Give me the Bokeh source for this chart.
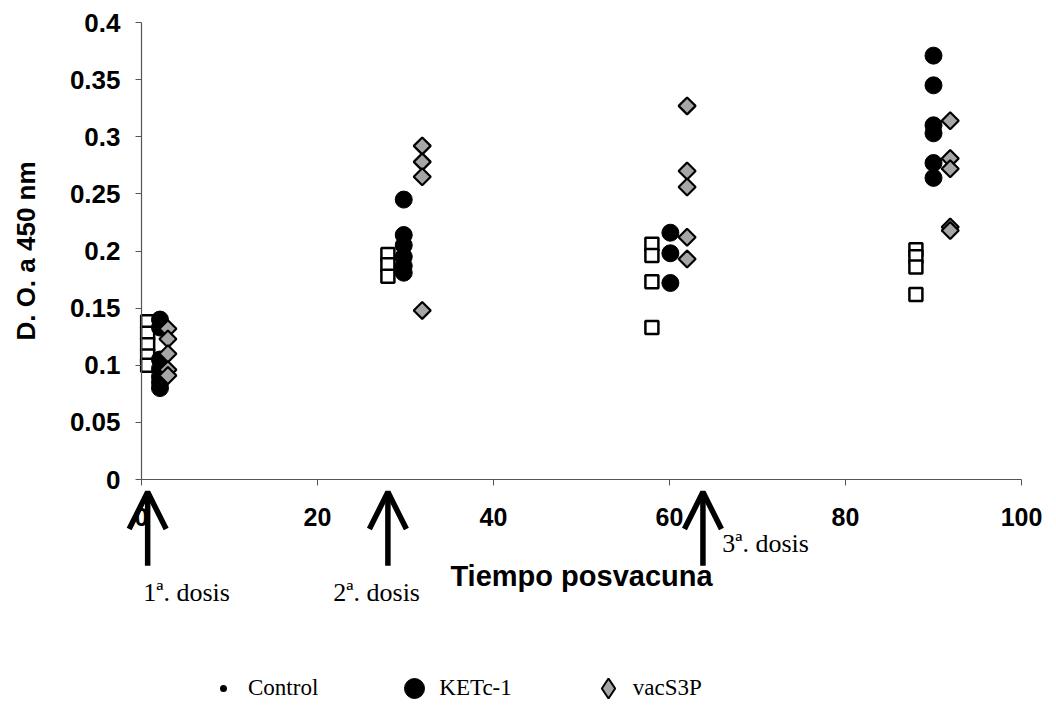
from bokeh.plotting import figure
from bokeh.models import (FixedTicker, Arrow, OpenHead, Label, Legend, LegendItem,
                          ColumnDataSource)
from bokeh.embed import file_html
from bokeh.resources import INLINE
import math

# ---------------- data ----------------
x_ticks = [0, 20, 40, 60, 80, 100]
x_tick_labels = ["0", "20", "40", "60", "80", "100"]
y_ticks = [0, 0.05, 0.1, 0.15, 0.2, 0.25, 0.3, 0.35, 0.4]
y_tick_labels = ["0", "0.05", "0.1", "0.15", "0.2", "0.25", "0.3", "0.35", "0.4"]

control_days = [0.7, 28, 58, 88]
control_values = [
    [0.138, 0.128, 0.118, 0.108, 0.100],
    [0.197, 0.188, 0.178],
    [0.206, 0.196, 0.173, 0.133],
    [0.201, 0.195, 0.186, 0.162],
]
ket_days = [2.1, 29.8, 60.1, 90]
ket_values = [
    [0.140, 0.133, 0.105, 0.097, 0.090, 0.085, 0.080],
    [0.245, 0.214, 0.205, 0.195, 0.187, 0.181],
    [0.216, 0.198, 0.172],
    [0.371, 0.345, 0.310, 0.303, 0.277, 0.264],
]
vac_days = [3.0, 31.9, 62, 91.9]
vac_values = [
    [0.132, 0.123, 0.110, 0.096, 0.091],
    [0.292, 0.278, 0.265, 0.148],
    [0.327, 0.270, 0.256, 0.212, 0.193],
    [0.314, 0.281, 0.272, 0.221, 0.218],
]

dose_days = [0.7, 28, 63.8]
dose_labels = ["1ª. dosis", "2ª. dosis", "3ª. dosis"]

series_names = ["Control", "KETc-1", "vacS3P"]


def flatten(days, values):
    xs, ys = [], []
    for d, vals in zip(days, values):
        for v in vals:
            xs.append(d)
            ys.append(v)
    return dict(x=xs, y=ys)


# ---------------- layout ----------------
# The frame fills the whole canvas so that the dose arrows, their labels and the
# legend can be drawn inside it; both axes are fixed at 0.
W, H = 1056, 719
PX_PER_DAY = 8.8
X_LEFT = -141 / PX_PER_DAY
X_RIGHT = X_LEFT + W / PX_PER_DAY
Y_TOP_PX = 22
Y_ZERO_PX = 479
Y_MAX = 0.4
py = (Y_ZERO_PX - Y_TOP_PX) / Y_MAX
Y_TOP = Y_MAX + Y_TOP_PX / py
Y_BOTTOM = -(H - Y_ZERO_PX) / py

p = figure(width=W, height=H, x_range=(X_LEFT, X_RIGHT), y_range=(Y_BOTTOM, Y_TOP),
           output_backend="svg", toolbar_location=None,
           min_border_left=0, min_border_right=0, min_border_top=0,
           min_border_bottom=0, background_fill_color="white",
           border_fill_color="white")
p.grid.visible = False
p.outline_line_color = None

AX_FONT = "Liberation Sans"
SERIF = "Liberation Serif"

xa = p.xaxis[0]
xa.fixed_location = 0
xa.bounds = (0, 100)
xa.ticker = FixedTicker(ticks=x_ticks)
xa.major_label_overrides = {t: l for t, l in zip(x_ticks, x_tick_labels)}
xa.axis_label = "Tiempo posvacuna"
ya = p.yaxis[0]
ya.fixed_location = 0
ya.bounds = (0, 0.4)
ya.ticker = FixedTicker(ticks=y_ticks)
ya.major_label_overrides = {t: l for t, l in zip(y_ticks, y_tick_labels)}
ya.axis_label = "D. O. a 450 nm"

for ax in (xa, ya):
    ax.axis_line_color = "#555555"
    ax.axis_line_width = 1.2
    ax.major_tick_line_color = "#555555"
    ax.major_tick_in = 0
    ax.major_tick_out = 6
    ax.minor_tick_line_color = None
    ax.major_label_text_font = AX_FONT
    ax.major_label_text_font_style = "bold"
    ax.major_label_text_font_size = "25px"
    ax.major_label_text_color = "black"
    ax.axis_label_text_font = AX_FONT
    ax.axis_label_text_font_style = "bold"
    ax.axis_label_text_color = "black"

xa.axis_label_text_font_size = "29px"
ya.axis_label_text_font_size = "26px"
ya.major_label_text_font_size = "26px"
xa.major_label_standoff = 22
xa.axis_label_standoff = 31
ya.major_label_standoff = 15
ya.axis_label_standoff = 26

src_c = ColumnDataSource(flatten(control_days, control_values))
src_k = ColumnDataSource(flatten(ket_days, ket_values))
src_v = ColumnDataSource(flatten(vac_days, vac_values))

# legend-only glyphs, drawn first and hidden under the visible markers
r_c_leg = p.scatter("x", "y", source=src_c, marker="circle", size=20,
                    fill_color="black", line_color="white", line_width=13)
r_v_leg = p.scatter("x", "y", source=src_v, marker="diamond", size=13,
                    fill_color="#a6a6a6", line_color="black", line_width=2)

p.scatter("x", "y", source=src_c, marker="square", size=13,
          fill_color="white", line_color="black", line_width=2.5)
r_k = p.scatter("x", "y", source=src_k, marker="circle", size=17,
                fill_color="black", line_color="black", line_width=1)
p.scatter("x", "y", source=src_v, marker="square", size=12, angle=math.pi / 4,
          fill_color="#a6a6a6", line_color="black", line_width=2.2)

legend = Legend(items=[LegendItem(label=series_names[0], renderers=[r_c_leg]),
                       LegendItem(label=series_names[1], renderers=[r_k]),
                       LegendItem(label=series_names[2], renderers=[r_v_leg])],
                orientation="horizontal", location=(198, 6),
                glyph_width=50, glyph_height=50, label_standoff=-8, spacing=71,
                padding=0, margin=0, border_line_color=None,
                background_fill_alpha=0,
                label_text_font=SERIF, label_text_font_size="23px",
                label_text_color="black")
p.add_layout(legend, "center")

# dose arrows and labels
for d in dose_days:
    p.add_layout(Arrow(end=OpenHead(size=37, line_width=5.5, line_color="black"),
                       x_start=d, y_start=-0.0755, x_end=d, y_end=-0.011,
                       line_width=5.5, line_color="black"))

label_pos = [(0.2, -0.099), (21.8, -0.099), (66.0, -0.056)]
for (lx, ly), txt in zip(label_pos, dose_labels):
    p.add_layout(Label(x=lx, y=ly, text=txt, text_align="left",
                       text_baseline="middle", text_font=SERIF,
                       text_font_size="26px", text_color="black"))

open("out.html", "w").write(file_html(p, INLINE))
